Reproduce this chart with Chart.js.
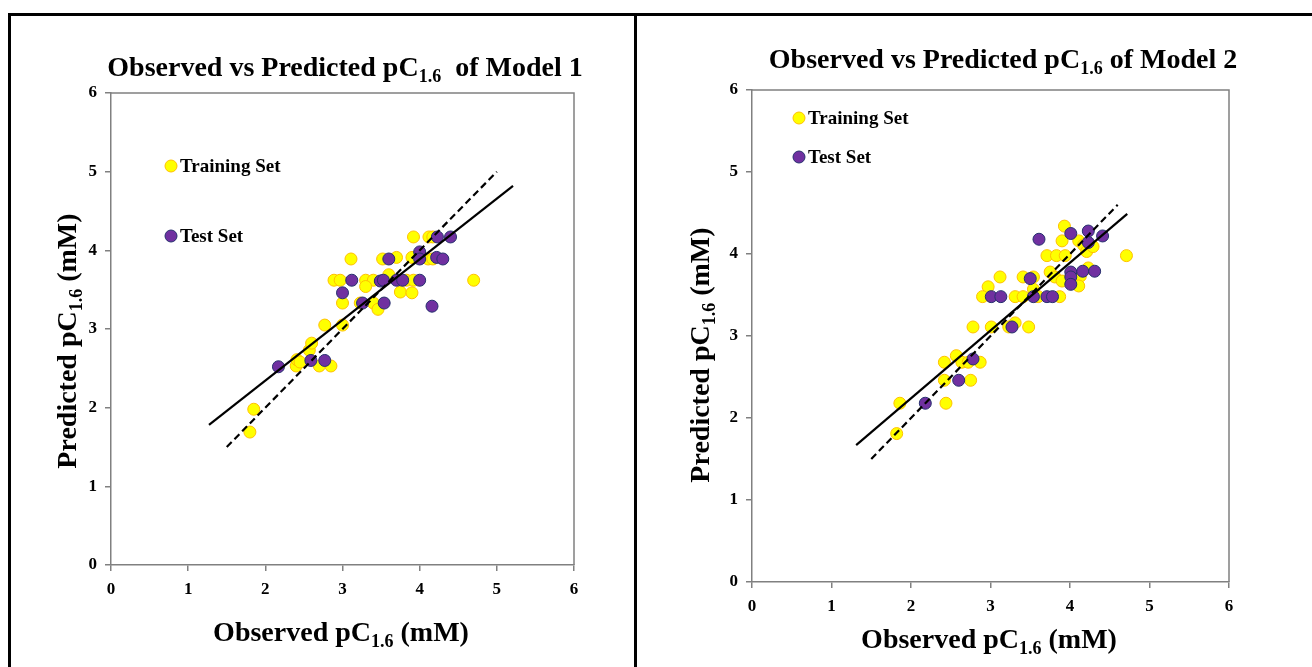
<!DOCTYPE html>
<html>
<head>
<meta charset="utf-8">
<script src="https://cdn.jsdelivr.net/npm/chart.js@4.4.1/dist/chart.umd.min.js"></script>
<style>
  body { margin: 0; background: #fff; width: 1312px; height: 667px; overflow: hidden; position: relative; }
  .line { position: absolute; background: #000; }
  canvas { position: absolute; }
</style>
</head>
<body>
<div class="line" style="left:8px;top:13px;width:1304px;height:3px"></div>
<div class="line" style="left:8px;top:13px;width:3px;height:654px"></div>
<div class="line" style="left:634px;top:13px;width:3px;height:654px"></div>
<canvas id="chart1" style="left:11px;top:16px;width:623px;height:651px"></canvas>
<canvas id="chart2" style="left:637px;top:16px;width:675px;height:651px"></canvas>
<script>
// Axis ticks (both charts)
const tickValues = [0, 1, 2, 3, 4, 5, 6];

// Model 1 - observed / predicted
const trainObs1 = [1.80, 1.85, 2.40, 2.41, 2.45, 2.57, 2.60, 2.70, 2.85, 2.77, 3.00, 3.00, 2.89, 2.97, 3.11, 3.23, 3.30, 3.40, 3.30, 3.40, 3.46, 3.52, 3.60, 3.70, 3.75, 3.83, 3.90, 3.92, 3.90, 3.92, 4.12, 4.17, 4.11, 4.17, 4.70];
const trainPred1 = [1.69, 1.98, 2.53, 2.61, 2.58, 2.73, 2.82, 2.53, 2.53, 3.05, 3.05, 3.33, 3.62, 3.62, 3.89, 3.33, 3.62, 3.62, 3.54, 3.33, 3.25, 3.89, 3.69, 3.91, 3.47, 3.62, 3.46, 3.62, 3.91, 4.17, 4.17, 4.17, 3.89, 3.89, 3.62];
const testObs1 = [2.17, 2.59, 2.77, 3.00, 3.12, 3.26, 3.49, 3.53, 3.54, 3.70, 3.78, 3.60, 4.00, 4.00, 4.00, 4.16, 4.22, 4.30, 4.23, 4.40];
const testPred1 = [2.52, 2.60, 2.60, 3.46, 3.62, 3.33, 3.61, 3.62, 3.33, 3.62, 3.62, 3.89, 3.98, 3.89, 3.62, 3.29, 3.91, 3.89, 4.17, 4.17];
const fitX1 = [1.27, 5.21];
const fitY1 = [1.78, 4.82];
const idealX1 = [1.5, 5.0];

// Model 2 - observed / predicted
const trainObs2 = [1.82, 1.86, 2.44, 2.42, 2.75, 2.42, 2.57, 2.64, 2.72, 2.87, 2.78, 3.01, 3.23, 3.31, 3.48, 2.97, 2.90, 3.12, 3.31, 3.41, 3.41, 3.54, 3.54, 3.60, 3.75, 3.81, 3.87, 3.90, 3.71, 3.83, 3.94, 3.90, 3.93, 4.11, 4.17, 4.21, 4.29, 4.13, 4.23, 4.11, 4.71];
const trainPred2 = [1.81, 2.18, 2.18, 2.46, 2.46, 2.68, 2.76, 2.68, 2.68, 2.68, 3.11, 3.11, 3.11, 3.16, 3.11, 3.60, 3.48, 3.72, 3.48, 3.48, 3.72, 3.72, 3.57, 3.48, 3.78, 3.72, 3.48, 3.67, 3.98, 3.98, 3.98, 4.16, 4.34, 4.16, 4.11, 4.03, 4.09, 3.73, 3.83, 3.61, 3.98];
const testObs2 = [2.18, 2.60, 2.78, 3.27, 3.01, 3.13, 3.50, 3.54, 3.71, 3.78, 3.61, 4.01, 4.01, 4.01, 4.16, 4.31, 4.01, 4.23, 4.41, 4.23];
const testPred2 = [2.18, 2.46, 2.72, 3.11, 3.48, 3.48, 3.70, 3.48, 3.48, 3.48, 4.18, 3.78, 3.72, 3.63, 3.79, 3.79, 4.25, 4.28, 4.22, 4.14];
const fitX2 = [1.31, 4.72];
const fitY2 = [1.67, 4.49];
const idealX2 = [1.5, 4.6];

const legendLabels = ['Training Set', 'Test Set'];
const SERIF = '"Liberation Serif", "Times New Roman", serif';

const yellowFill = '#FFFF00', yellowEdge = '#FFC000';
const purpleFill = '#7030A0', purpleEdge = '#26306E';

function toPoints(xs, ys) {
    return xs.map((x, i) => ({ x: x, y: ys[i] }));
}

// draw text made of normal + subscript pieces, centered at (cx, cy)
function drawSubText(ctx, parts, cx, cy, size, rotate) {
    const subSize = Math.round(size * 0.65);
    let total = 0;
    parts.forEach(p => {
        ctx.font = 'bold ' + (p.sub ? subSize : size) + 'px ' + SERIF;
        p.w = ctx.measureText(p.t).width;
        total += p.w;
    });
    ctx.save();
    ctx.translate(cx, cy);
    if (rotate) ctx.rotate(-Math.PI / 2);
    ctx.fillStyle = '#000';
    ctx.textBaseline = 'alphabetic';
    ctx.textAlign = 'left';
    let x = -total / 2;
    const base = size * 0.33;
    parts.forEach(p => {
        ctx.font = 'bold ' + (p.sub ? subSize : size) + 'px ' + SERIF;
        ctx.fillText(p.t, x, p.sub ? base + size * 0.2 : base);
        x += p.w;
    });
    ctx.restore();
}

const decorPlugin = {
    id: 'decor',
    beforeDatasetsDraw(chart, args, opts) {
        const { ctx, chartArea: a } = chart;
        ctx.save();
        ctx.strokeStyle = '#808080';
        ctx.lineWidth = 1.5;
        ctx.beginPath();
        ctx.moveTo(a.left, a.top);
        ctx.lineTo(a.right, a.top);
        ctx.lineTo(a.right, a.bottom);
        ctx.stroke();
        ctx.restore();
    },
    afterDraw(chart, args, opts) {
        const ctx = chart.ctx;
        drawSubText(ctx, opts.title, opts.titlePos[0], opts.titlePos[1], 28, false);
        drawSubText(ctx, [{ t: 'Observed pC' }, { t: '1.6', sub: true }, { t: ' (mM)' }], opts.xTitlePos[0], opts.xTitlePos[1], 28, false);
        drawSubText(ctx, [{ t: 'Predicted pC' }, { t: '1.6', sub: true }, { t: ' (mM)' }], opts.yTitlePos[0], opts.yTitlePos[1], 28, true);
        // legend
        const a = chart.chartArea;
        const fills = [yellowFill, purpleFill], edges = [yellowEdge, purpleEdge];
        opts.legendY.forEach((ly, i) => {
            const mx = a.left + opts.legendX;
            ctx.beginPath();
            ctx.arc(mx, a.top + ly, 6, 0, Math.PI * 2);
            ctx.fillStyle = fills[i];
            ctx.fill();
            ctx.strokeStyle = edges[i];
            ctx.lineWidth = 1;
            ctx.stroke();
            ctx.fillStyle = '#000';
            ctx.font = 'bold 19px ' + SERIF;
            ctx.textAlign = 'left';
            ctx.textBaseline = 'middle';
            ctx.fillText(legendLabels[i], mx + 9, a.top + ly + 1);
        });
    }
};

function axis(width, height) {
    return {
        type: 'linear', min: 0, max: 6,
        afterBuildTicks: s => { s.ticks = tickValues.map(v => ({ value: v })); },
        afterFit: s => { if (width) s.width = width; if (height) s.height = height; },
        grid: { drawOnChartArea: false, drawTicks: true, tickLength: 6, color: '#808080', lineWidth: 1.5 },
        border: { color: '#808080', width: 1.5 },
        ticks: { color: '#000', padding: 8, font: { family: SERIF, size: 17, weight: 'bold' } }
    };
}

function makeChart(id, trainX, trainY, testX, testY, fitX, fitY, idealX, pad, decor) {
    return new Chart(document.getElementById(id), {
        type: 'scatter',
        data: {
            datasets: [
                { type: 'line', data: toPoints(fitX, fitY), borderColor: '#000', borderWidth: 2.2, pointRadius: 0, fill: false },
                { type: 'line', data: toPoints(idealX, idealX), borderColor: '#000', borderWidth: 2.2, borderDash: [7, 4], pointRadius: 0, fill: false },
                { label: legendLabels[1], data: toPoints(testX, testY), backgroundColor: purpleFill, borderColor: purpleEdge, borderWidth: 1, pointRadius: 6 },
                { label: legendLabels[0], data: toPoints(trainX, trainY), backgroundColor: yellowFill, borderColor: yellowEdge, borderWidth: 1, pointRadius: 6 }
            ]
        },
        options: {
            responsive: false,
            animation: false,
            layout: { padding: pad },
            scales: { x: axis(0, 40), y: axis(40, 0) },
            plugins: { legend: { display: false }, tooltip: { enabled: false }, decor: decor }
        },
        plugins: [decorPlugin]
    });
}

function setup(id, w, h) {
    const c = document.getElementById(id);
    c.width = w; c.height = h;
}
setup('chart1', 623, 651);
setup('chart2', 675, 651);

makeChart('chart1', trainObs1, trainPred1, testObs1, testPred1, fitX1, fitY1, idealX1,
    { left: 60, right: 60, top: 77, bottom: 62 },
    {
        title: [{ t: 'Observed vs Predicted pC' }, { t: '1.6', sub: true }, { t: '  of Model 1' }],
        titlePos: [334, 51], xTitlePos: [330, 616], yTitlePos: [56, 325],
        legendX: 60, legendY: [73, 143]
    });

makeChart('chart2', trainObs2, trainPred2, testObs2, testPred2, fitX2, fitY2, idealX2,
    { left: 75, right: 83, top: 74, bottom: 45 },
    {
        title: [{ t: 'Observed vs Predicted pC' }, { t: '1.6', sub: true }, { t: ' of Model 2' }],
        titlePos: [366, 43], xTitlePos: [352, 623], yTitlePos: [63, 339],
        legendX: 47, legendY: [28, 67]
    });
</script>
</body>
</html>
